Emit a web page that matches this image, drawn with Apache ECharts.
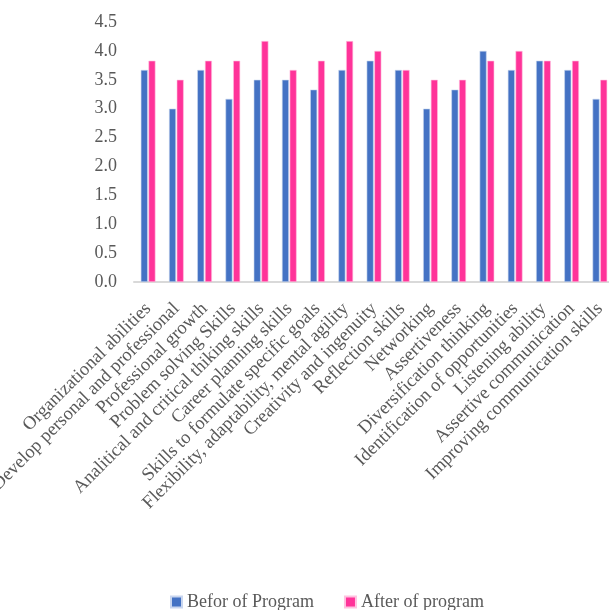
<!DOCTYPE html>
<html>
<head>
<meta charset="utf-8">
<script src="https://cdn.jsdelivr.net/npm/echarts@6/dist/echarts.min.js"></script>
<style>
  html, body { margin: 0; padding: 0; background: #fff; }
  #chart { width: 609px; height: 610px; }
</style>
</head>
<body>
<div id="chart"></div>
<script>
const categories = [
  'Organizational abilities',
  'Develop personal and professional',
  'Professional growth',
  'Problem solving Skills',
  'Analitical and critical thiking skills',
  'Career planning skills',
  'Skills to formulate specific goals',
  'Flexibility, adaptability, mental agility',
  'Creativity and ingenuity',
  'Reflection skills',
  'Networking',
  'Assertiveness',
  'Diversification thinking',
  'Identification of opportunities',
  'Listening ability',
  'Assertive communication',
  'Improving communication skills'
];
const beforeValues = [3.67, 3.00, 3.67, 3.17, 3.50, 3.50, 3.33, 3.67, 3.83, 3.67, 3.00, 3.33, 4.00, 3.67, 3.83, 3.67, 3.17];
const afterValues  = [3.83, 3.50, 3.83, 3.83, 4.17, 3.67, 3.83, 4.17, 4.00, 3.67, 3.50, 3.50, 3.83, 4.00, 3.83, 3.83, 3.50];
const seriesNames = ['Befor of Program', 'After of program'];

const font = '"Liberation Serif", "Times New Roman", serif';
const chart = echarts.init(document.getElementById('chart'));

chart.setOption({
  backgroundColor: '#fff',
  animation: false,
  textStyle: { fontFamily: font },
  grid: {
    left: 134, top: 22, width: 480, height: 260,
    containLabel: false,
    outerBoundsMode: 'none'
  },
  legend: {
    left: 165,
    top: 588,
    icon: 'rect',
    itemWidth: 11,
    itemHeight: 11,
    itemGap: 30,
    textStyle: { fontFamily: font, fontSize: 18, color: '#595959' },
    data: seriesNames
  },
  xAxis: {
    type: 'category',
    data: categories,
    axisLine: { lineStyle: { color: '#d9d9d9', width: 2 } },
    axisTick: { show: false },
    axisLabel: {
      interval: 0,
      rotate: 45,
      margin: 24,
      fontFamily: font,
      fontSize: 18.5,
      color: '#595959'
    }
  },
  yAxis: {
    type: 'value',
    min: 0,
    max: 4.5,
    interval: 0.5,
    axisLine: { show: false },
    axisTick: { show: false },
    splitLine: { show: false },
    axisLabel: {
      margin: 17,
      fontFamily: font,
      fontSize: 18,
      color: '#595959',
      formatter: v => v.toFixed(1)
    }
  },
  series: [
    {
      name: seriesNames[0],
      type: 'bar',
      data: beforeValues,
      barWidth: 7,
      barGap: '10%',
      itemStyle: { color: '#4472c4', borderColor: '#c9d6ef', borderWidth: 0.6 }
    },
    {
      name: seriesNames[1],
      type: 'bar',
      data: afterValues,
      barWidth: 7,
      itemStyle: { color: '#ff3399', borderColor: '#ffc2e0', borderWidth: 0.6 }
    }
  ]
});
</script>
</body>
</html>
